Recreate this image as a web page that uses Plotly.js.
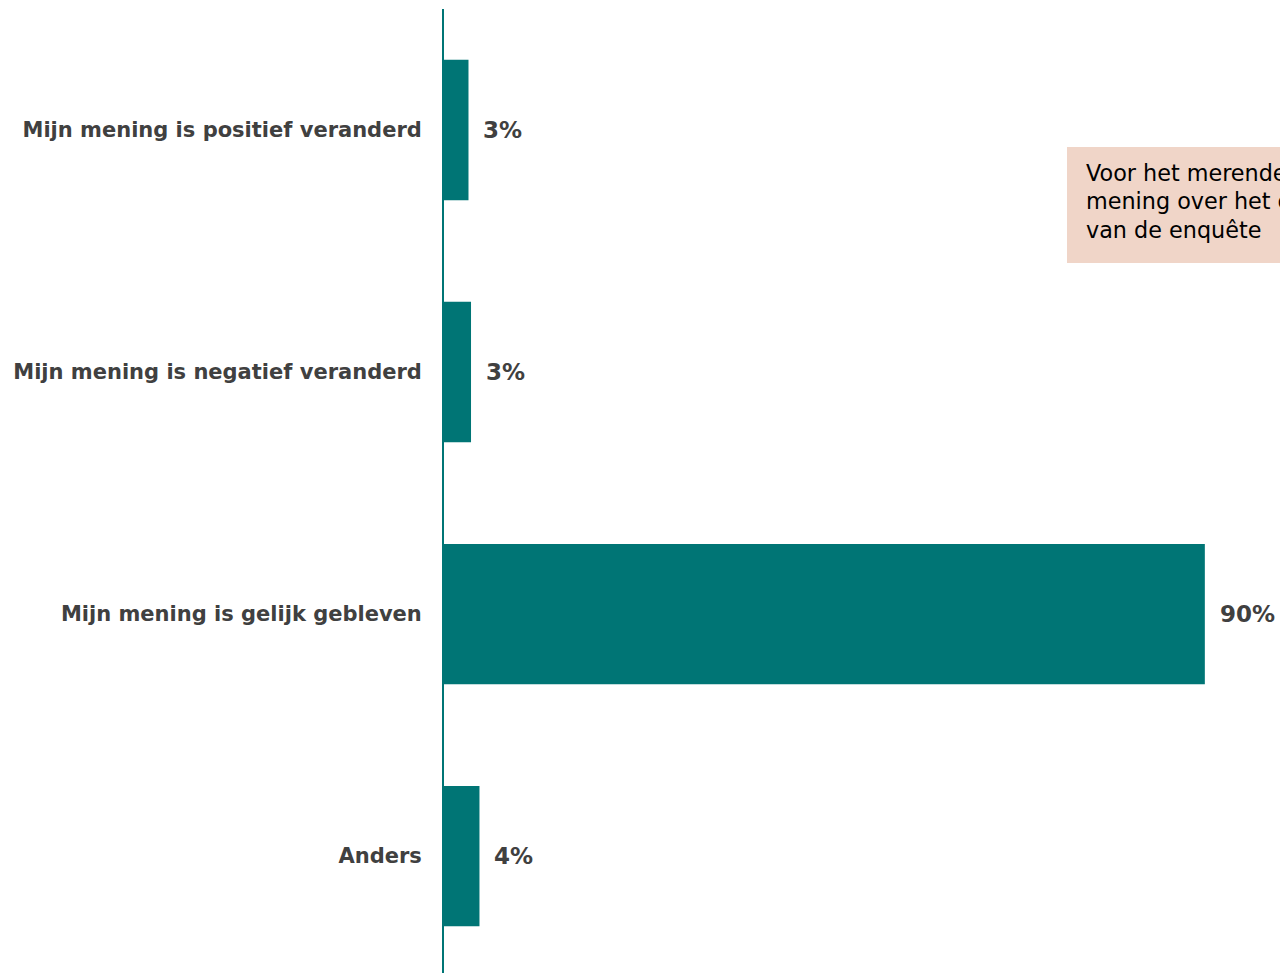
<!DOCTYPE html>
<html>
<head>
<meta charset="utf-8">
<script src="https://cdn.plot.ly/plotly-3.0.1.min.js"></script>
<style>html,body{margin:0;padding:0;background:#fff;overflow:hidden}#chart{width:1280px;height:973px}</style>
</head>
<body>
<div id="chart"></div>
<script>
const categories = [
  "Mijn mening is positief veranderd",
  "Mijn mening is negatief veranderd",
  "Mijn mening is gelijk gebleven",
  "Anders"
];
const values = [2.9, 3.2, 90.1, 4.2];
const valueLabels = ["3%", "3%", "90%", "4%"];
const noteLines = [
  "Voor het merendeel van de respondenten is de",
  "mening over het onderwerp niet veranderd door het invullen",
  "van de enquête"
];

const teal = "#007575";
const labelColor = "#404040";

const trace = {
  type: "bar",
  orientation: "h",
  x: values,
  y: categories,
  marker: {color: teal},
  width: 0.58,
  hoverinfo: "none"
};

const annotations = values.map((v, i) => ({
  x: v, y: categories[i], xref: "x", yref: "y",
  text: "<b>" + valueLabels[i] + "</b>",
  showarrow: false, xanchor: "left", xshift: 13,
  font: {family: "DejaVu Sans", size: 23, color: labelColor}
}));

noteLines.forEach((t, i) => {
  annotations.push({
    x: 1084, y: 173 + i * 28.5, xref: "paper", yref: "paper",
    text: t, showarrow: false, xanchor: "left", yanchor: "middle",
    font: {family: "DejaVu Sans", size: 22.3, color: "#000"}
  });
});

const L = 444;
const layout = {
  width: 1280, height: 973,
  margin: {l: L, r: 0, t: 9, b: 0},
  paper_bgcolor: "#fff", plot_bgcolor: "#fff",
  showlegend: false,
  xaxis: {range: [0, 99.0], visible: false, showgrid: false, zeroline: false},
  yaxis: {
    type: "category",
    range: [3.483, -0.5],
    showline: true, linecolor: teal, linewidth: 2,
    showgrid: false, zeroline: false, ticks: "",
    ticklabelstandoff: 16,
    tickfont: {family: "DejaVu Sans", size: 21, color: labelColor, weight: "bold"}
  },
  shapes: [{
    type: "rect", xref: "paper", yref: "paper",
    x0: 1067, x1: 1400, y0: 147, y1: 263,
    fillcolor: "#f0d5c8", line: {width: 0}, layer: "below"
  }],
  annotations: annotations
};

// convert pixel positions for the note box into paper coordinates
const plotW = 1280 - L, plotH = 973 - 9;
const s = layout.shapes[0];
s.x0 = (1067 - L) / plotW;
s.x1 = (1400 - L) / plotW;
s.y0 = 1 - (263 - 9) / plotH;
s.y1 = 1 - (147 - 9) / plotH;
annotations.forEach(a => {
  if (a.xref === "paper") {
    a.x = (a.x - L) / plotW;
    a.y = 1 - (a.y - 9) / plotH;
  }
});

Plotly.newPlot("chart", [trace], layout, {displayModeBar: false, staticPlot: true});
</script>
</body>
</html>
